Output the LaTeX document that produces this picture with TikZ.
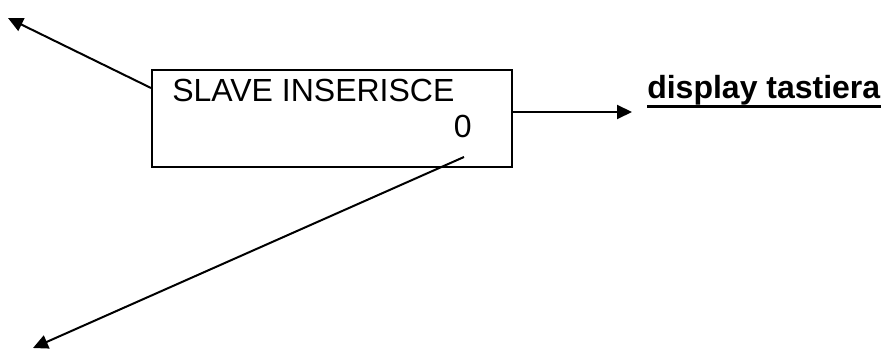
\documentclass[tikz,border=0pt]{standalone}
\usepackage{fontspec}
\setmainfont{Liberation Sans}
\usetikzlibrary{arrows.meta, positioning}

\begin{document}
\begin{tikzpicture}[
  x=0.75pt, y=-0.75pt,
  box/.style={draw, line width=1.5pt, minimum width=270pt, minimum height=72.75pt,
    inner sep=0pt},
  boxtext/.style={font=\fontsize{24}{28}\selectfont, inner sep=0pt},
  dest/.style={font=\fontsize{24}{28}\selectfont\bfseries, inner sep=0pt},
  arrow/.style={-{Triangle[length=11.25pt, width=10.5pt]}, line width=1.5pt},
]
\useasboundingbox (0,0) rectangle (881,349);

% Main box
\node[box] (slave) at (332,118.5) {};
\node[boxtext, anchor=base west] (title) at (172,102) {SLAVE INSERISCE};
\node[boxtext, anchor=base east] (val) at (472,138) {0};

% Output label
\node[dest, anchor=base west] (disp) at (647,99) {display tastiera};
\draw[line width=2.25pt] ([yshift=-6pt]disp.base west) -- ([yshift=-6pt]disp.base east);

% Free ends
\coordinate (tipnw) at (8,18);
\coordinate (tipsw) at (33,348);
\coordinate (tipe) at (632,112);

\draw[arrow] (slave.west |- 0,88) -- (tipnw);
\draw[arrow] (slave.east |- tipe) -- (tipe);
\draw[arrow] (464,157) -- (tipsw);

\end{tikzpicture}
\end{document}
